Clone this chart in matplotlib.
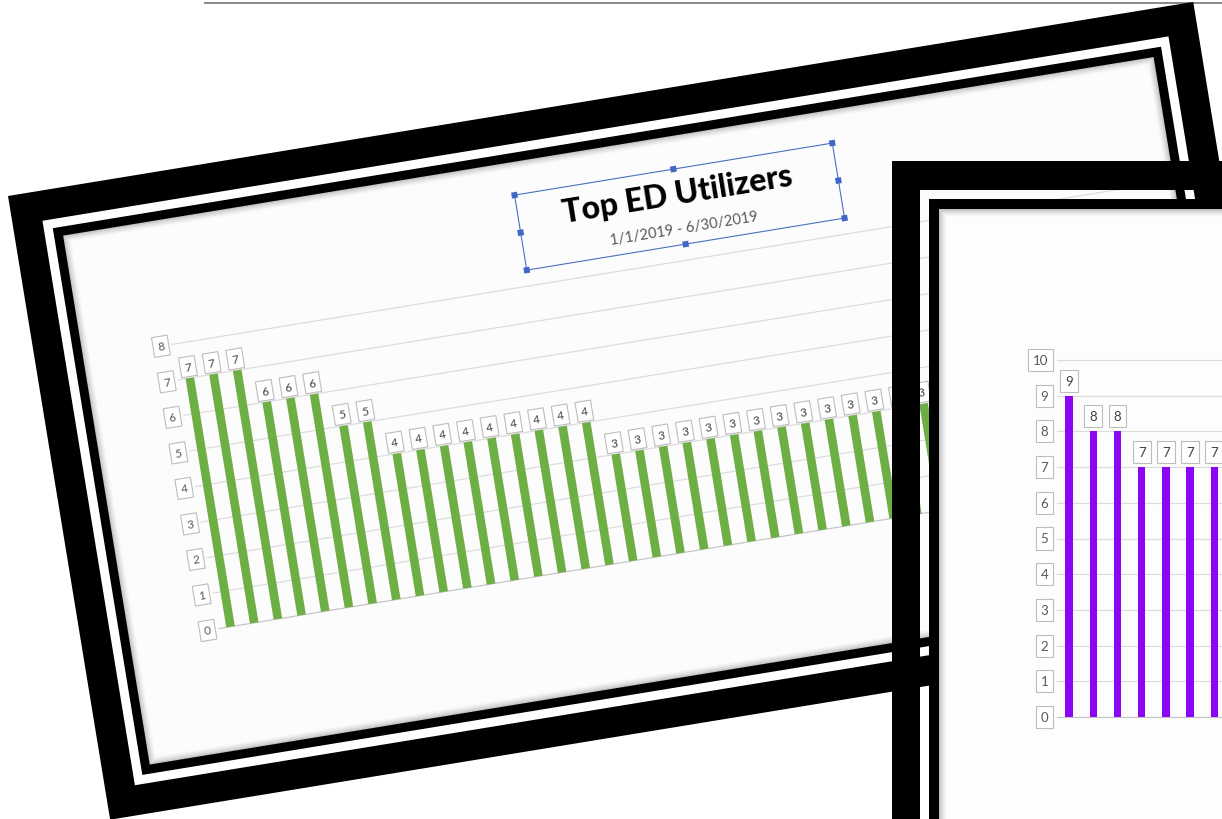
import numpy as np
import matplotlib
matplotlib.use("Agg")
import matplotlib.pyplot as plt
from matplotlib.patches import Rectangle
from matplotlib.transforms import Affine2D

plt.rcParams["font.family"] = ["Lato", "DejaVu Sans"]

# dados
titulo = "Top ED Utilizers"
subtitulo = "1/1/2019 - 6/30/2019"

valores_1 = [7, 7, 7, 6, 6, 6, 5, 5,
             4, 4, 4, 4, 4, 4, 4, 4, 4,
             3, 3, 3, 3, 3, 3, 3, 3, 3, 3, 3, 3, 3, 3]
ticks_1 = [0, 1, 2, 3, 4, 5, 6, 7, 8]

valores_2 = [9, 8, 8, 7, 7, 7, 7]
ticks_2 = [0, 1, 2, 3, 4, 5, 6, 7, 8, 9, 10]

VERDE = "#6DAE45"
ROXO = "#8C05F5"
GRADE = "#DCDCDC"
EIXO = "#C4C4C4"
ANG = 9.3
PX = 0.72  # 1 px em pontos

fig = plt.figure(figsize=(12.22, 8.2), dpi=100)
ax = fig.add_axes([0, 0, 1, 1])
ax.set_xlim(0, 1222)
ax.set_ylim(820, 0)
ax.axis("off")
ax.set_autoscale_on(False)

caixa = dict(boxstyle="square,pad=0.38", fc="white", ec="#BDBDBD", lw=0.8)

# linha cinza no topo
ax.plot([205, 1222], [4, 4], color="#8C8C8C", lw=2 * PX, zorder=0.5)


def sombra(x0, y0, w, h, transf, z):
    for k in range(8):
        ax.add_patch(Rectangle((x0 + k, y0 + k), w - 2 * k, h - 2 * k, fill=False,
                               ec=(0, 0, 0, 0.22 * (1 - k / 8) ** 1.5), lw=1.1 * PX,
                               transform=transf, zorder=z))


# GRAFICO 1 (girado)
T1 = Affine2D().rotate_deg(-ANG).translate(8, 197) + ax.transData
D1 = Affine2D().scale(24, -36).translate(138, 461) + T1

ax.add_patch(Rectangle((0, 0), 1201, 632, fc="black", ec="none", transform=T1, zorder=1))
ax.add_patch(Rectangle((30, 30), 1141, 572, fc="white", ec="none", transform=T1, zorder=1.01))
ax.add_patch(Rectangle((39, 39), 1123, 554, fc="black", ec="none", transform=T1, zorder=1.02))
ax.add_patch(Rectangle((48, 48), 1105, 536, fc="#FCFCFC", ec="none", transform=T1, zorder=1.03))
sombra(48, 48, 1105, 536, T1, 1.04)

for t in ticks_1:
    ax.plot([0, 40], [t, t], transform=D1, color=EIXO if t == 0 else GRADE,
            lw=1.2 * PX, zorder=2, clip_on=False)
    ax.text(-0.33, t, str(t), transform=D1, rotation=ANG, rotation_mode="anchor",
            ha="right", va="center", fontsize=8.5, color="#595959", bbox=caixa, zorder=4)

x1 = np.arange(len(valores_1)) + 0.5
ax.bar(x1, valores_1, width=0.36, color=VERDE, transform=D1, zorder=3, clip_on=False)
for x, v in zip(x1, valores_1):
    ax.text(x, v + 0.32, str(v), transform=D1, rotation=ANG, rotation_mode="anchor",
            ha="center", va="center", fontsize=8.5, color="#404040", bbox=caixa, zorder=4)

# titulo selecionado
ax.text(661, 106, titulo, transform=T1, rotation=ANG, rotation_mode="anchor",
        ha="center", va="center", fontsize=23, fontweight="black", color="black", zorder=4)
ax.text(662, 141, subtitulo, transform=T1, rotation=ANG, rotation_mode="anchor",
        ha="center", va="center", fontsize=10.5, color="#595959", zorder=4)
ax.add_patch(Rectangle((500, 81), 322, 76, fill=False, ec="#4A6FC0", lw=1.1 * PX,
                       transform=T1, zorder=4))
alcas_u = [500, 661, 822, 822, 822, 661, 500, 500]
alcas_v = [81, 81, 81, 119, 157, 157, 157, 119]
for u, v in zip(alcas_u, alcas_v):
    ax.add_patch(Rectangle((u - 3, v - 3), 6, 6, fc="#3F68C6", ec="none",
                           transform=T1, zorder=4.1))

# GRAFICO 2
ax.add_patch(Rectangle((892, 162), 600, 29, fc="black", ec="none", zorder=10))
ax.add_patch(Rectangle((892, 162), 28, 800, fc="black", ec="none", zorder=10))
ax.add_patch(Rectangle((929, 200), 600, 800, fc="black", ec="none", zorder=10.01))
ax.add_patch(Rectangle((939, 210), 600, 800, fc="#FDFDFD", ec="none", zorder=10.02))
sombra(939, 210, 600, 800, ax.transData, 10.03)

D2 = Affine2D().scale(24.2, -35.7).translate(1057, 718) + ax.transData
for t in ticks_2:
    ax.plot([0, 12], [t, t], transform=D2, color=EIXO if t == 0 else GRADE,
            lw=1.2 * PX, zorder=11)
    ax.text(-0.36, t, str(t), transform=D2, ha="right", va="center", fontsize=9.5,
            color="#595959", bbox=caixa, zorder=13)

x2 = np.arange(len(valores_2)) + 0.5
ax.bar(x2, valores_2, width=0.3, color=ROXO, transform=D2, zorder=12)
for x, v in zip(x2, valores_2):
    ax.text(x, v + 0.42, str(v), transform=D2, ha="center", va="center", fontsize=9.5,
            color="#404040", bbox=caixa, zorder=13)

fig.savefig("out.png", dpi=100, facecolor="white")
